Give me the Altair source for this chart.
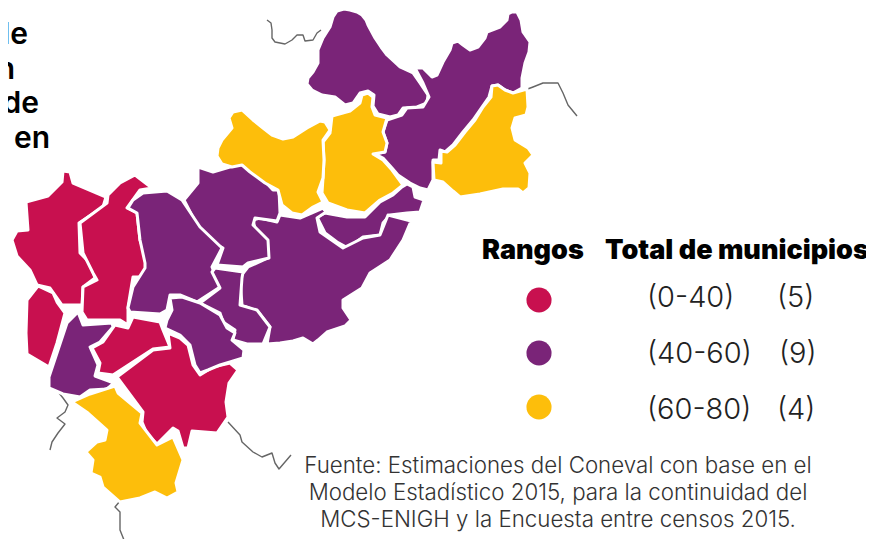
import altair as alt

CRIMSON, PURPLE, YELLOW = "#C8104F", "#7A2478", "#FDBE0B"
RANGOS = ["(0-40)", "(40-60)", "(60-80)"]
TOTALES = ["(5)", "(9)", "(4)"]

jalpan = [(333,17),(337,11),(344,9),(350,10),(357,12),(362,15),(366,20),(368,25),(375,38),(381,47),(387,55),(400,67),(413,73),(420,83),(428,95),(427,103),(417,107),(403,108),(398,115),(390,117),(378,114),(373,106),(374,95),(368,91),(360,93),(353,103),(345,105),(335,97),(322,95),(312,90),(307,84),(308,78),(313,72),(318,63),(318,50),(323,38),(330,27)]
noreste = [(415,68),(423,68),(432,77),(437,75),(443,62),(450,50),(452,43),(458,41),(463,45),(470,50),(478,47),(485,38),(487,32),(500,27),(507,20),(508,14),(512,12),(517,12),(521,20),(523,32),(530,42),(529,52),(525,63),(522,78),(522,88),(513,93),(505,90),(498,85),(492,86),(489,97),(482,107),(473,120),(463,132),(453,145),(445,152),(440,150),(439,160),(433,160),(433,180),(428,190),(420,188),(410,183),(398,175),(392,168),(383,158),(375,154),(385,152),(387,143),(383,132),(387,120),(402,115),(407,108),(423,107),(429,97),(423,83)]
este = [(492,86),(498,85),(505,90),(513,93),(527,89),(528,107),(526,115),(515,118),(512,128),(515,140),(528,148),(533,155),(525,163),(530,173),(529,188),(523,193),(518,189),(503,189),(480,194),(460,197),(453,191),(443,182),(434,180),(433,162),(441,163),(441,151),(447,152),(455,145),(465,132),(475,120),(483,107),(491,97)]
centro_am = [(332,116),(350,111),(360,103),(362,95),(368,93),(373,97),(372,107),(375,115),(387,118),(383,132),(387,143),(385,152),(373,154),(383,160),(392,170),(403,185),(393,193),(380,200),(365,213),(347,210),(328,203),(322,193),(323,178),(324,160),(323,142),(330,133)]
oeste_am = [(229,118),(233,112),(242,110),(253,120),(263,128),(272,135),(283,139),(293,137),(307,128),(320,121),(325,122),(330,130),(323,140),(324,160),(323,178),(318,192),(323,202),(313,207),(302,215),(292,213),(282,205),(278,190),(265,183),(250,172),(242,165),(232,167),(222,164),(217,156),(218,148),(222,140),(232,128)]
franja = [(317,217),(325,213),(347,217),(365,217),(380,202),(393,195),(402,187),(407,184),(413,187),(415,197),(424,200),(420,212),(407,213),(390,215),(383,223),(380,235),(363,237),(348,248),(337,242),(325,233)]
grande = [(280,215),(300,218),(323,208),(326,212),(317,218),(320,232),(343,248),(363,238),(380,235),(388,215),(411,221),(403,240),(390,260),(370,273),(362,288),(343,300),(343,308),(351,320),(345,326),(327,332),(318,340),(313,344),(303,338),(293,341),(280,343),(267,344),(270,327),(258,312),(242,305),(240,277),(248,267),(268,258),(267,240),(255,228),(253,220),(260,218),(277,222)]
norcentro = [(198,167),(213,172),(240,164),(257,173),(273,190),(279,190),(280,213),(277,221),(255,218),(253,225),(268,240),(269,258),(248,263),(243,267),(217,265),(223,248),(203,237),(184,200),(198,183)]
centro_mo = [(128,208),(133,200),(143,193),(167,191),(182,200),(200,227),(222,248),(212,267),(220,287),(197,302),(180,295),(170,295),(167,310),(160,314),(130,312),(128,308),(133,287),(145,268),(145,263),(140,240),(137,213)]
pequeno = [(215,268),(243,272),(242,278),(240,305),(257,310),(270,327),(263,344),(247,344),(233,340),(235,330),(223,322),(220,313),(200,303),(220,288),(212,272)]
sur_mo = [(170,298),(182,297),(200,303),(220,315),(227,328),(235,333),(232,340),(244,350),(243,358),(230,362),(220,365),(208,370),(200,373),(195,365),(190,345),(180,335),(165,328),(167,320),(172,310)]
sur_ro = [(168,333),(180,338),(188,345),(193,365),(200,375),(213,367),(230,363),(238,370),(229,383),(226,402),(228,417),(217,433),(192,431),(188,448),(183,448),(178,431),(173,428),(157,444),(147,434),(142,422),(143,412),(117,377),(153,350),(170,348)]
centro_ro = [(115,325),(128,328),(133,317),(160,322),(163,330),(170,347),(153,349),(113,375),(98,373),(100,363),(92,348),(103,342)]
suroeste = [(78,312),(83,325),(112,323),(113,327),(100,342),(90,347),(98,365),(95,376),(114,383),(107,389),(90,390),(80,397),(63,394),(49,388),(49,377),(58,350),(67,323)]
oeste_bajo = [(38,286),(53,293),(57,302),(65,313),(57,343),(49,367),(27,354),(26,333),(27,300)]
oeste_alto = [(63,171),(70,172),(73,183),(106,197),(103,207),(79,223),(80,253),(90,263),(95,278),(83,287),(82,305),(62,305),(50,288),(37,285),(30,270),(17,256),(12,240),(17,231),(28,230),(26,202),(48,196),(62,182)]
oeste_medio = [(135,175),(152,188),(140,190),(127,208),(137,213),(140,240),(148,263),(143,277),(133,277),(128,307),(128,325),(120,320),(87,320),(82,312),(83,287),(97,280),(93,273),(83,253),(80,223),(107,203),(108,195),(120,183)]
sur_am = [(115,386),(118,393),(142,413),(140,423),(157,445),(173,437),(183,460),(176,483),(178,492),(167,498),(155,492),(140,498),(120,502),(103,487),(100,477),(91,473),(93,460),(86,452),(97,442),(105,440),(107,430),(88,413),(72,402),(90,394)]

rio_1 = [(267,20),(271,23),(272,30),(272,38),(275,42),(285,44),(292,40),(297,35),(303,35),(305,41),(313,40),(317,33),(321,30)]
rio_2 = [(525,90),(533,87),(543,83),(558,83),(563,93),(568,105),(577,116)]
rio_3 = [(59,393),(63,398),(68,405),(65,412),(57,418),(65,424),(58,433),(52,442),(50,450)]
rio_4 = [(228,422),(240,435),(242,442),(253,452),(262,457),(272,453),(275,463),(279,469),(285,462),(291,455)]
rio_5 = [(120,501),(115,507),(120,512),(120,530),(124,540),(128,547)]

municipios = [
    (oeste_alto, 0), (oeste_medio, 0), (oeste_bajo, 0), (centro_ro, 0), (sur_ro, 0),
    (jalpan, 1), (noreste, 1), (franja, 1), (grande, 1), (norcentro, 1),
    (centro_mo, 1), (pequeno, 1), (sur_mo, 1), (suroeste, 1),
    (este, 2), (centro_am, 2), (oeste_am, 2), (sur_am, 2),
]
rios = [rio_1, rio_2, rio_3, rio_4, rio_5]


def poly(points, idx):
    ring = [list(p) for p in points] + [list(points[0])]
    return {"type": "Feature", "properties": {"rango": RANGOS[idx]},
            "geometry": {"type": "Polygon", "coordinates": [ring]}}


def line(points):
    return {"type": "Feature", "properties": {},
            "geometry": {"type": "LineString", "coordinates": [list(p) for p in points]}}


color = alt.Scale(domain=RANGOS, range=[CRIMSON, PURPLE, YELLOW])
projection = dict(type="identity", scale=1, translate=[-8, -8])
xs = alt.Scale(domain=[8, 866], range=[0, 858])
ys = alt.Scale(domain=[8, 539], range=[0, 531])
FONT = "Inter"

rivers = (alt.Chart(alt.Data(values=[line(r) for r in rios]))
          .mark_geoshape(filled=False, stroke="#666666", strokeWidth=1.4, strokeJoin="round")
          .project(**projection))
mapa = (alt.Chart(alt.Data(values=[poly(p, i) for p, i in municipios]))
        .mark_geoshape(stroke="white", strokeWidth=3, strokeJoin="round")
        .encode(color=alt.Color("properties.rango:N", scale=color, legend=None))
        .project(**projection))


def text_layer(rows, **mark):
    return (alt.Chart(alt.Data(values=rows))
            .mark_text(font=FONT, baseline="alphabetic", **mark)
            .encode(x=alt.X("x:Q", scale=xs, axis=None),
                    y=alt.Y("y:Q", scale=ys, axis=None),
                    text="t:N"))


titulo = text_layer([{"t": "de", "x": 28, "y": 44}, {"t": "n", "x": 15, "y": 79},
                     {"t": "de", "x": 39, "y": 113}, {"t": "en", "x": 50, "y": 148}],
                    align="right", fontSize=30, fontWeight=600, color="black")
cab = text_layer([{"t": "Rangos", "x": 482, "y": 259}, {"t": "Total de municipios", "x": 605, "y": 259}],
                 align="left", fontSize=27, fontWeight=900, color="black")
rangos_t = text_layer([{"t": RANGOS[0], "x": 647, "y": 307}, {"t": RANGOS[1], "x": 647, "y": 363},
                       {"t": RANGOS[2], "x": 647, "y": 419}, {"t": TOTALES[0], "x": 777, "y": 307},
                       {"t": TOTALES[1], "x": 779, "y": 363}, {"t": TOTALES[2], "x": 777, "y": 419}],
                      align="left", fontSize=29, fontWeight=300, color="#222222")
puntos = (alt.Chart(alt.Data(values=[{"r": RANGOS[0], "x": 539, "y": 300}, {"r": RANGOS[1], "x": 539, "y": 353},
                                     {"r": RANGOS[2], "x": 539, "y": 407}]))
          .mark_point(filled=True, opacity=1, size=630)
          .encode(x=alt.X("x:Q", scale=xs, axis=None), y=alt.Y("y:Q", scale=ys, axis=None),
                  color=alt.Color("r:N", scale=color, legend=None)))
fuente = text_layer([{"t": "Fuente: Estimaciones del Coneval con base en el", "x": 558, "y": 473},
                     {"t": "Modelo Estadístico 2015, para la continuidad del", "x": 558, "y": 500},
                     {"t": "MCS-ENIGH y la Encuesta entre censos 2015.", "x": 558, "y": 527}],
                    align="center", fontSize=22.3, fontWeight=300, color="#333333")

chart = (alt.layer(rivers, mapa, titulo, cab, rangos_t, puntos, fuente)
         .properties(width=858, height=531, padding=0, background="white",
                     autosize=alt.AutoSizeParams(type="none"))
         .configure_view(stroke=None))

chart.save("out.html", embed_options={"renderer": "svg", "actions": False})
